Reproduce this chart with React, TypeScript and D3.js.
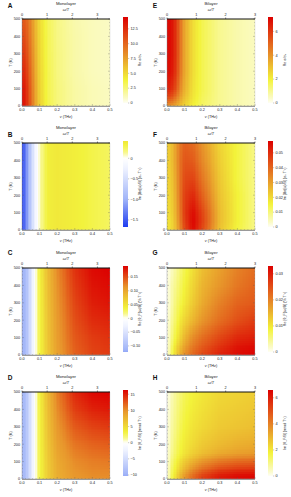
import React from 'react';
import * as d3 from 'd3';

// ---------- data ----------
const NU_GRID = [0, 0.025, 0.05, 0.075, 0.1, 0.15, 0.2, 0.3, 0.4, 0.5];
const T_GRID_6 = [0, 100, 200, 300, 400, 500];
const T_GRID_7 = [0, 50, 100, 200, 300, 400, 500];
const T_GRID_H = [0, 25, 50, 100, 150, 200, 300, 500];

const A_VALUES = [
  [14.3, 12.8, 10.2, 7.4, 5.4, 3.5, 2.5, 1.6, 1.2, 1.0],
  [14.0, 12.6, 10.0, 7.3, 5.3, 3.4, 2.5, 1.6, 1.2, 1.0],
  [13.2, 12.0, 9.6, 7.1, 5.2, 3.4, 2.4, 1.5, 1.1, 0.9],
  [12.4, 11.3, 9.2, 6.9, 5.1, 3.3, 2.4, 1.5, 1.1, 0.9],
  [11.6, 10.7, 8.8, 6.7, 5.0, 3.3, 2.3, 1.5, 1.1, 0.9],
  [10.8, 10.1, 8.5, 6.5, 4.9, 3.2, 2.3, 1.4, 1.1, 0.9],
];
const B_VALUES = [
  [-1.62, -1.25, -0.7, -0.2, 0.1, 0.36, 0.4, 0.36, 0.3, 0.25],
  [-1.62, -1.25, -0.7, -0.2, 0.1, 0.36, 0.4, 0.36, 0.3, 0.25],
  [-1.62, -1.25, -0.7, -0.2, 0.1, 0.36, 0.4, 0.36, 0.3, 0.25],
  [-1.62, -1.25, -0.7, -0.2, 0.1, 0.36, 0.4, 0.36, 0.3, 0.25],
  [-1.62, -1.25, -0.7, -0.2, 0.1, 0.36, 0.4, 0.36, 0.3, 0.25],
  [-1.62, -1.25, -0.7, -0.2, 0.1, 0.36, 0.4, 0.36, 0.3, 0.25],
];
const C_VALUES = [
  [-0.12, -0.1, -0.05, 0.0, 0.035, 0.075, 0.105, 0.14, 0.155, 0.16],
  [-0.12, -0.1, -0.05, 0.0, 0.035, 0.077, 0.108, 0.145, 0.16, 0.165],
  [-0.12, -0.1, -0.05, 0.0, 0.036, 0.078, 0.11, 0.15, 0.168, 0.172],
  [-0.12, -0.1, -0.05, 0.0, 0.037, 0.08, 0.113, 0.155, 0.175, 0.18],
  [-0.12, -0.1, -0.05, 0.0, 0.038, 0.082, 0.116, 0.16, 0.18, 0.185],
  [-0.12, -0.1, -0.05, 0.0, 0.04, 0.084, 0.12, 0.165, 0.185, 0.19],
];
const D_VALUES = [
  [-10, -8, -4, 0, 3.0, 6.0, 8.0, 9.5, 10.0, 10.0],
  [-10, -8, -4, 0, 3.0, 6.2, 8.4, 10.2, 10.8, 11.0],
  [-10, -8, -4, 0, 3.1, 6.5, 9.0, 11.2, 12.0, 12.3],
  [-10, -8, -4, 0, 3.2, 6.8, 9.6, 12.4, 13.4, 13.8],
  [-10, -8, -4, 0, 3.3, 7.1, 10.2, 13.6, 14.8, 15.2],
  [-10, -8, -4, 0, 3.4, 7.4, 10.8, 14.6, 16.0, 16.3],
];
const E_VALUES = [
  [3.8, 3.7, 3.4, 3.0, 2.6, 2.0, 1.5, 1.0, 0.7, 0.5],
  [5.6, 5.4, 4.6, 3.7, 3.0, 2.2, 1.6, 1.0, 0.7, 0.5],
  [6.5, 6.3, 5.5, 4.2, 3.3, 2.3, 1.7, 1.0, 0.7, 0.5],
  [7.0, 6.8, 6.0, 4.6, 3.5, 2.4, 1.7, 1.0, 0.7, 0.5],
  [7.1, 6.9, 6.1, 4.7, 3.5, 2.4, 1.7, 1.0, 0.7, 0.5],
  [7.1, 6.9, 6.1, 4.7, 3.5, 2.4, 1.7, 1.0, 0.7, 0.5],
  [7.1, 6.9, 6.1, 4.7, 3.5, 2.4, 1.7, 1.0, 0.7, 0.5],
];
const F_VALUES = [
  [0.018, 0.02, 0.025, 0.034, 0.045, 0.056, 0.045, 0.024, 0.015, 0.009],
  [0.018, 0.02, 0.026, 0.036, 0.047, 0.057, 0.047, 0.025, 0.016, 0.009],
  [0.019, 0.021, 0.027, 0.037, 0.048, 0.056, 0.046, 0.025, 0.016, 0.009],
  [0.02, 0.022, 0.028, 0.038, 0.047, 0.051, 0.041, 0.024, 0.016, 0.009],
  [0.021, 0.023, 0.029, 0.038, 0.045, 0.046, 0.037, 0.023, 0.015, 0.009],
  [0.021, 0.024, 0.03, 0.038, 0.043, 0.042, 0.034, 0.022, 0.015, 0.009],
  [0.022, 0.024, 0.03, 0.037, 0.041, 0.039, 0.032, 0.021, 0.015, 0.009],
];
const G_VALUES = [
  [0.0, 0.007, 0.012, 0.016, 0.019, 0.023, 0.026, 0.03, 0.032, 0.033],
  [0.0, 0.006, 0.011, 0.014, 0.017, 0.021, 0.024, 0.028, 0.031, 0.032],
  [0.0, 0.005, 0.009, 0.012, 0.015, 0.019, 0.022, 0.026, 0.029, 0.03],
  [0.0, 0.004, 0.007, 0.01, 0.012, 0.015, 0.018, 0.022, 0.025, 0.027],
  [0.0, 0.003, 0.006, 0.008, 0.01, 0.013, 0.016, 0.02, 0.023, 0.024],
  [0.0, 0.003, 0.005, 0.007, 0.009, 0.012, 0.015, 0.018, 0.021, 0.023],
  [0.0, 0.002, 0.004, 0.006, 0.008, 0.011, 0.014, 0.017, 0.02, 0.022],
];
const H_VALUES = [
  [0, 1.5, 2.3, 3.0, 3.6, 4.6, 5.4, 6.2, 6.5, 6.6],
  [0, 1.4, 2.2, 2.9, 3.5, 4.4, 5.2, 6.0, 6.3, 6.4],
  [0, 1.3, 2.0, 2.6, 3.1, 3.9, 4.6, 5.4, 5.7, 5.8],
  [0, 1.1, 1.7, 2.2, 2.6, 3.1, 3.6, 4.2, 4.5, 4.6],
  [0, 0.9, 1.4, 1.8, 2.1, 2.5, 2.8, 3.2, 3.4, 3.5],
  [0, 0.8, 1.3, 1.7, 2.0, 2.3, 2.6, 2.9, 3.1, 3.2],
  [0, 0.7, 1.1, 1.5, 1.8, 2.1, 2.3, 2.6, 2.7, 2.8],
  [0, 0.5, 0.9, 1.2, 1.5, 1.8, 2.0, 2.3, 2.4, 2.5],
];

const X_TICKS = [0, 0.1, 0.2, 0.3, 0.4, 0.5];
const Y_TICKS = [0, 100, 200, 300, 400, 500];
const TOP_TICKS = [0, 1, 2, 3];

const CB_A = [0, 2.5, 5, 7.5, 10, 12.5];
const CB_B = [-1.5, -1.0, -0.5, 0];
const CB_C = [-0.1, -0.05, 0, 0.05, 0.1, 0.15];
const CB_D = [-10, -5, 0, 5, 10, 15];
const CB_E = [0, 2, 4, 6];
const CB_F = [0, 0.01, 0.02, 0.03, 0.04, 0.05];
const CB_G = [0, 0.01, 0.02, 0.03];
const CB_H = [0, 2, 4, 6];

const SEQ_STOPS = [0, 0.05, 0.27, 0.58, 1];
const SEQ_COLORS = ['#fefef4', '#fbfbcc', '#f3f33a', '#e68a28', '#dc0000'];
const DIV_STOPS = [-1, -0.6, -0.15, 0, 0.08, 0.2, 0.6, 1];
const DIV_COLORS = ['#1e3cf0', '#a0b4f8', '#eef2ff', '#ffffff', '#f8f890', '#f2f23c', '#e8962c', '#dc0000'];

// ---------- layout ----------
const COL_X = [22, 167];
const ROW_Y = [19, 143, 268, 392];
const PW = 88;
const PH = 87;
const FONT = 'Liberation Sans, Arial, sans-serif';

type Panel = {
  letter: string; letterY: number; title: string; col: number; row: number;
  tGrid: number[]; values: number[][]; domain: [number, number]; diverging: boolean;
  cbTicks: number[]; cbFmt: (v: number) => string; cbLabel: string; topMax: number;
};

const fmt1 = (v: number) => (v === 0 ? '0' : d3.format('.1f')(v));
const fmt2 = (v: number) => (v === 0 ? '0' : d3.format('.2f')(v));
const fmt0 = (v: number) => d3.format('d')(v);

const PANELS: Panel[] = [
  { letter: 'A', letterY: 8, title: 'Monolayer', col: 0, row: 0, tGrid: T_GRID_6, values: A_VALUES, domain: [0, 14.5], diverging: false, cbTicks: CB_A, cbFmt: fmt1, cbLabel: 'Re σ/σ₀', topMax: 3.5 },
  { letter: 'B', letterY: 137, title: 'Monolayer', col: 0, row: 1, tGrid: T_GRID_6, values: B_VALUES, domain: [-1.67, 0.42], diverging: true, cbTicks: CB_B, cbFmt: fmt1, cbLabel: 'Im [Δσ(ω)/B] (σ₀ T⁻¹)', topMax: 3.5 },
  { letter: 'C', letterY: 255, title: 'Monolayer', col: 0, row: 2, tGrid: T_GRID_6, values: C_VALUES, domain: [-0.122, 0.19], diverging: true, cbTicks: CB_C, cbFmt: fmt2, cbLabel: 'Re [θ_F(ω)/B] (% T⁻¹)', topMax: 3.5 },
  { letter: 'D', letterY: 380, title: 'Monolayer', col: 0, row: 3, tGrid: T_GRID_6, values: D_VALUES, domain: [-10.3, 16.3], diverging: true, cbTicks: CB_D, cbFmt: fmt0, cbLabel: 'Im [θ_F/B] (mrad T⁻¹)', topMax: 3.5 },
  { letter: 'E', letterY: 8, title: 'Bilayer', col: 1, row: 0, tGrid: T_GRID_7, values: E_VALUES, domain: [0, 7.2], diverging: false, cbTicks: CB_E, cbFmt: fmt0, cbLabel: 'Re σ/σ₀', topMax: 3 },
  { letter: 'F', letterY: 137, title: 'Bilayer', col: 1, row: 1, tGrid: T_GRID_7, values: F_VALUES, domain: [0, 0.058], diverging: false, cbTicks: CB_F, cbFmt: fmt2, cbLabel: 'Im [Δσ(ω)/B] (σ₀ T⁻¹)', topMax: 3 },
  { letter: 'G', letterY: 255, title: 'Bilayer', col: 1, row: 2, tGrid: T_GRID_7, values: G_VALUES, domain: [0, 0.033], diverging: false, cbTicks: CB_G, cbFmt: fmt2, cbLabel: 'Re [θ_F(ω)/B] (% T⁻¹)', topMax: 3 },
  { letter: 'H', letterY: 380, title: 'Bilayer', col: 1, row: 3, tGrid: T_GRID_H, values: H_VALUES, domain: [0, 6.6], diverging: false, cbTicks: CB_H, cbFmt: fmt0, cbLabel: 'Im [θ_F/B] (mrad T⁻¹)', topMax: 3 },
];

const seqScale = d3.scaleLinear<string>().domain(SEQ_STOPS).range(SEQ_COLORS).interpolate(d3.interpolateRgb).clamp(true);
const divScale = d3.scaleLinear<string>().domain(DIV_STOPS).range(DIV_COLORS).interpolate(d3.interpolateRgb).clamp(true);

function colorFor(p: Panel) {
  const m = Math.max(Math.abs(p.domain[0]), Math.abs(p.domain[1]));
  return (v: number) => (p.diverging ? divScale(v / m) : seqScale(v / p.domain[1]));
}

function sample(grid: number[], v: number) {
  let i = d3.bisectRight(grid, v) - 1;
  i = Math.max(0, Math.min(grid.length - 2, i));
  const f = (v - grid[i]) / (grid[i + 1] - grid[i]);
  return [i, Math.max(0, Math.min(1, f))] as [number, number];
}

function valueAt(p: Panel, nu: number, T: number) {
  const [i, fx] = sample(NU_GRID, nu);
  const [j, fy] = sample(p.tGrid, T);
  const v = p.values;
  const a = v[j][i] * (1 - fx) + v[j][i + 1] * fx;
  const b = v[j + 1][i] * (1 - fx) + v[j + 1][i + 1] * fx;
  return a * (1 - fy) + b * fy;
}

const NX = 60;
const NY = 48;

function PanelView({ p }: { p: Panel }) {
  const px = COL_X[p.col];
  const py = ROW_Y[p.row];
  const x = d3.scaleLinear().domain([0, 0.5]).range([px, px + PW]);
  const y = d3.scaleLinear().domain([0, 500]).range([py + PH, py]);
  const xTop = d3.scaleLinear().domain([0, p.topMax]).range([px, px + PW]);
  const color = colorFor(p);
  const cells: React.ReactNode[] = [];
  const dx = 0.5 / NX;
  const dy = 500 / NY;
  for (let j = 0; j < NY; j++) {
    for (let i = 0; i < NX; i++) {
      const nu = (i + 0.5) * dx;
      const T = (j + 0.5) * dy;
      const x0 = x(i * dx);
      const y1 = y((j + 1) * dy);
      cells.push(
        <rect key={`${i}-${j}`} x={x0} y={y1} width={x((i + 1) * dx) - x0 + 0.4}
          height={y(j * dy) - y1 + 0.4} fill={color(valueAt(p, nu, T))} />
      );
    }
  }
  const cbX = px + 101;
  const cbTop = py - 2;
  const cbH = 86;
  const cbY = d3.scaleLinear().domain(p.domain).range([cbTop + cbH, cbTop]);
  const gid = `cb-${p.letter}`;
  const nStops = 40;
  const stops = d3.range(nStops + 1).map((k) => {
    const v = p.domain[0] + (p.domain[1] - p.domain[0]) * (k / nStops);
    return <stop key={k} offset={`${(k / nStops) * 100}%`} stopColor={color(v)} />;
  });
  const minorY = d3.range(0, 501, 20);
  const minorX = d3.range(0, 0.501, 0.02);
  const fs = 3.8;
  return (
    <g>
      <defs>
        <linearGradient id={gid} x1="0" y1="1" x2="0" y2="0">{stops}</linearGradient>
      </defs>
      <g shapeRendering="crispEdges">{cells}</g>
      {minorY.map((t) => (
        <g key={`my${t}`}>
          <line x1={px} x2={px + (t % 100 === 0 ? 2 : 1)} y1={y(t)} y2={y(t)} stroke="#555" strokeWidth={0.3} />
          <line x1={px + PW} x2={px + PW - (t % 100 === 0 ? 2 : 1)} y1={y(t)} y2={y(t)} stroke="#555" strokeWidth={0.3} />
        </g>
      ))}
      {minorX.map((t, k) => (
        <line key={`mx${k}`} x1={x(t)} x2={x(t)} y1={py + PH} y2={py + PH - (k % 5 === 0 ? 2 : 1)} stroke="#555" strokeWidth={0.3} />
      ))}
      <line x1={px} x2={px} y1={py} y2={py + PH} stroke="#888" strokeWidth={0.4} />
      <line x1={px + PW} x2={px + PW} y1={py} y2={py + PH} stroke="#bbb" strokeWidth={0.3} />
      <line x1={px} x2={px + PW} y1={py + PH + 0.4} y2={py + PH + 0.4} stroke="#9a9a9a" strokeWidth={1.1} />
      <line x1={px} x2={px + PW} y1={py} y2={py} stroke="#111" strokeWidth={1} />
      {TOP_TICKS.map((t) => (
        <g key={`tt${t}`}>
          <line x1={xTop(t)} x2={xTop(t)} y1={py} y2={py - 1.5} stroke="#111" strokeWidth={0.5} />
          <text x={xTop(t)} y={py - 3} fontSize={fs} textAnchor="middle" fill="#222">{t}</text>
        </g>
      ))}
      <text x={px + PW / 2} y={py - 8.5} fontSize={fs} textAnchor="middle" fill="#222" fontStyle="italic">ω/T</text>
      <text x={px + PW / 2} y={py - 14.5} fontSize={4.3} textAnchor="middle" fill="#222">{p.title}</text>
      <text x={COL_X[p.col] - 12} y={p.letterY} fontSize={6.5} fontWeight="bold" textAnchor="middle" fill="#111">{p.letter}</text>
      {Y_TICKS.map((t) => (
        <text key={`yt${t}`} x={px - 2} y={y(t) + 1.4} fontSize={fs} textAnchor="end" fill="#222">{t}</text>
      ))}
      <text transform={`translate(${px - 10.5},${py + PH / 2}) rotate(-90)`} fontSize={fs} textAnchor="middle" fill="#222">T (K)</text>
      {X_TICKS.map((t) => (
        <text key={`xt${t}`} x={x(t)} y={py + PH + 5.4} fontSize={fs} textAnchor="middle" fill="#222">{d3.format('.1f')(t)}</text>
      ))}
      <text x={px + PW / 2} y={py + PH + 11.5} fontSize={fs} textAnchor="middle" fill="#222">
        <tspan fontStyle="italic">ν</tspan> (THz)
      </text>
      <rect x={cbX} y={cbTop} width={5} height={cbH} fill={`url(#${gid})`} />
      {p.cbTicks.map((t) => (
        <g key={`cb${t}`}>
          <line x1={cbX + 5} x2={cbX + 6.2} y1={cbY(t)} y2={cbY(t)} stroke="#444" strokeWidth={0.3} />
          <text x={cbX + 7.5} y={cbY(t) + 1.3} fontSize={fs} fill="#222">{p.cbFmt(t)}</text>
        </g>
      ))}
      <text transform={`translate(${cbX + 18},${cbTop + cbH / 2}) rotate(-90)`} fontSize={3.6} textAnchor="middle" fill="#222">{p.cbLabel}</text>
    </g>
  );
}

export default function App() {
  return (
    <svg width={291} height={497} viewBox="0 0 291 497" style={{ position: 'absolute', left: 0, top: 0, background: '#fff' }} fontFamily={FONT}>
      <rect x={0} y={0} width={291} height={497} fill="#fff" />
      {PANELS.map((p) => <PanelView key={p.letter} p={p} />)}
    </svg>
  );
}
